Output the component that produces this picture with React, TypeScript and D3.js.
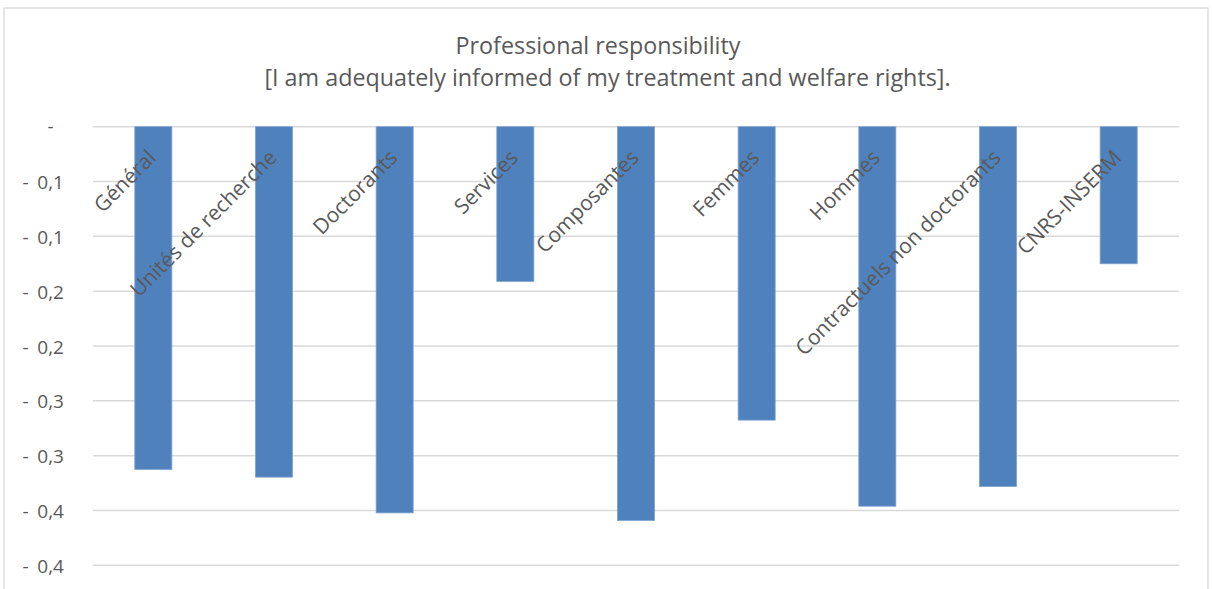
import React from "react";
import * as d3 from "d3";

const categories = [
  "Général",
  "Unités de recherche",
  "Doctorants",
  "Services",
  "Composantes",
  "Femmes",
  "Hommes",
  "Contractuels non doctorants",
  "CNRS-INSERM",
];
const values = [-0.3126, -0.3196, -0.3522, -0.1411, -0.3591, -0.2676, -0.3461, -0.3281, -0.125];
const yTicks = [0, -0.05, -0.1, -0.15, -0.2, -0.25, -0.3, -0.35, -0.4];
const yTickLabels = ["-", "- 0,1", "- 0,1", "- 0,2", "- 0,2", "- 0,3", "- 0,3", "- 0,4", "- 0,4"];
const titleLines = [
  "Professional responsibility",
  "[I am adequately informed of my treatment and welfare rights].",
];

const W = 1213;
const H = 589;
const FONT = "'Open Sans', sans-serif";
const TEXT = "#595959";
const GRID = "#D9D9D9";
const BAR = "#4F81BD";

export default function App() {
  const x = d3
    .scaleBand<string>()
    .domain(categories)
    .range([93, 1179])
    .paddingInner(0.693)
    .paddingOuter(0.3465);
  const y = d3.scaleLinear().domain([-0.4, 0]).range([565.3, 126.7]);

  return (
    <div style={{ position: "absolute", left: 0, top: 0 }}>
      <svg width={W} height={H} style={{ display: "block", background: "#fff" }}>
        <rect x={4} y={8} width={1204} height={H + 20} fill="#fff" stroke={GRID} strokeWidth={1.3} />
        {titleLines.map((t, i) => (
          <text
            key={i}
            x={i === 0 ? 598 : 607.5}
            y={i === 0 ? 54 : 86}
            textAnchor="middle"
            fontFamily={FONT}
            fontSize={23.3}
            fill={TEXT}
          >
            {t}
          </text>
        ))}
        {yTicks.map((v, i) => (
          <line
            key={"g" + i}
            x1={93}
            x2={1179}
            y1={y(v)}
            y2={y(v)}
            stroke={GRID}
            strokeWidth={1.5}
          />
        ))}
        {yTicks.map((v, i) => {
          const lab = yTickLabels[i];
          if (lab === "-") {
            return (
              <text key={"t" + i} x={53.5} y={y(v) + 6} textAnchor="end" fontFamily={FONT} fontSize={19} fill={TEXT}>
                -
              </text>
            );
          }
          const rest = lab.replace(/^-\s*/, "");
          return (
            <g key={"t" + i}>
              <text x={22.5} y={y(v) + 7.5} textAnchor="start" fontFamily={FONT} fontSize={19} fill={TEXT}>
                -
              </text>
              <text x={64} y={y(v) + 7.5} textAnchor="end" fontFamily={FONT} fontSize={19} fill={TEXT}>
                {rest}
              </text>
            </g>
          );
        })}
        {categories.map((c, i) => {
          const v = values[i];
          return (
            <rect
              key={"b" + i}
              x={x(c)}
              y={y(0)}
              width={x.bandwidth()}
              height={y(v) - y(0)}
              fill={BAR}
              stroke="#7EA1CF"
              strokeWidth={0.8}
            />
          );
        })}
        {categories.map((c, i) => {
          const cx = (x(c) as number) + x.bandwidth() / 2 + 4;
          const cy = 159;
          return (
            <text
              key={"l" + i}
              transform={`translate(${cx},${cy}) rotate(-45)`}
              textAnchor="end"
              fontFamily={FONT}
              fontSize={21}
              fill={TEXT}
            >
              {c}
            </text>
          );
        })}
      </svg>
    </div>
  );
}
